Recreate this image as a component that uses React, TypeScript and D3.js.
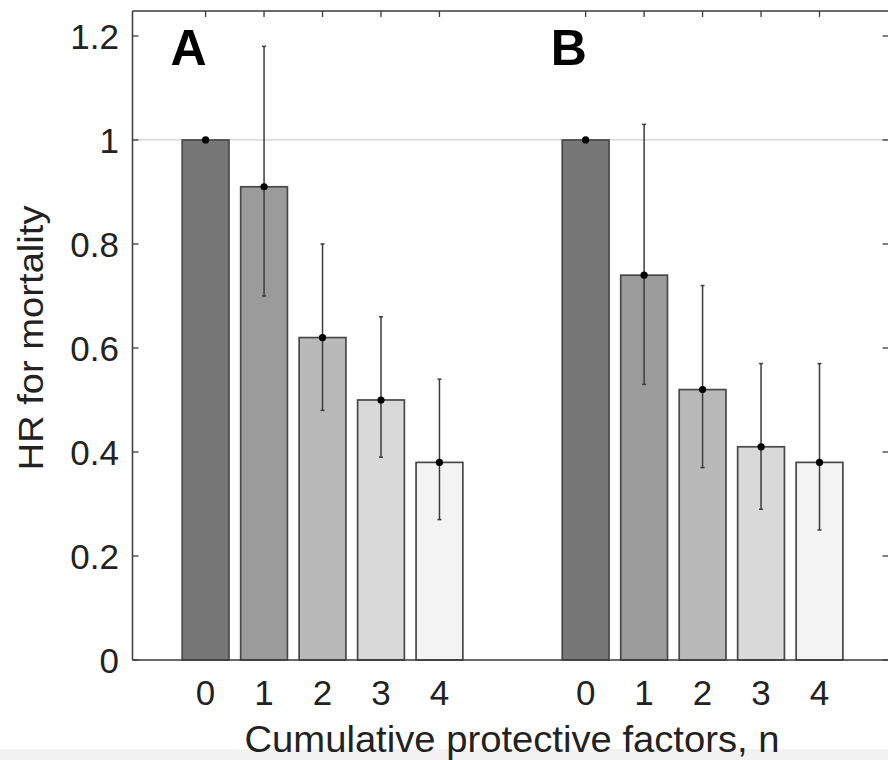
import React from "react";
import * as d3 from "d3";

const categories = ["0", "1", "2", "3", "4"];
const panelLabels = ["A", "B"];
const hrA = [1, 0.91, 0.62, 0.5, 0.38];
const lowA = [1, 0.7, 0.48, 0.39, 0.27];
const highA = [1, 1.18, 0.8, 0.66, 0.54];
const hrB = [1, 0.74, 0.52, 0.41, 0.38];
const lowB = [1, 0.53, 0.37, 0.29, 0.25];
const highB = [1, 1.03, 0.72, 0.57, 0.57];
const yTicks = [0, 0.2, 0.4, 0.6, 0.8, 1, 1.2];
const yTickLabels = ["0", "0.2", "0.4", "0.6", "0.8", "1", "1.2"];
const groupOffsets = [0, 6.5];
const barColors = ["#777777", "#9b9b9b", "#b9b9b9", "#d9d9d9", "#f3f3f3"];
const xTitle = "Cumulative protective factors, n";
const yTitle = "HR for mortality";

export default function App() {
  const W = 888;
  const H = 760;
  const left = 132.5;
  const plotRightRef = 888.5;
  const right = 890.5;
  const top = 11;
  const bottom = 660;
  const x = d3.scaleLinear().domain([-1.25, 11.68]).range([left, plotRightRef]);
  const y = d3.scaleLinear().domain([0, 1.248]).range([bottom, top]);
  const unit = x(1) - x(0);
  const bw = unit * 0.8;
  const font = "'Liberation Sans', Arial, Helvetica, sans-serif";
  const axisColor = "#3a3a3a";
  const textColor = "#222222";

  const groups = [
    { hr: hrA, low: lowA, high: highA, off: groupOffsets[0], label: panelLabels[0] },
    { hr: hrB, low: lowB, high: highB, off: groupOffsets[1], label: panelLabels[1] },
  ];
  const allPos: number[] = [];
  groups.forEach((g) => categories.forEach((_, i) => allPos.push(g.off + i)));

  return (
    <svg
      width={W}
      height={H}
      style={{ position: "absolute", left: 0, top: 0, background: "#fff" }}
      fontFamily={font}
    >
      <rect x={0} y={0} width={W} height={H} fill="#ffffff" />
      <rect x={0} y={749} width={W} height={11} fill="#f2f2f2" />
      {/* reference line at 1 */}
      <line x1={left} x2={right} y1={y(1)} y2={y(1)} stroke="#cfcfcf" strokeWidth={1.2} />
      {/* bottom ticks (behind bars) */}
      {allPos.map((p, i) => (
        <line key={"bt" + i} x1={x(p)} x2={x(p)} y1={bottom} y2={bottom - 6} stroke={axisColor} strokeWidth={1.3} />
      ))}
      {groups.map((g, gi) => (
        <g key={"g" + gi}>
          {g.hr.map((v, i) => (
            <rect
              key={"b" + i}
              x={x(g.off + i) - bw / 2}
              y={y(v)}
              width={bw}
              height={y(0) - y(v)}
              fill={barColors[i]}
              stroke="#484848"
              strokeWidth={1.7}
            />
          ))}
          {g.hr.map((v, i) =>
            g.high[i] !== g.low[i] ? (
              <g key={"e" + i}>
                <line x1={x(g.off + i)} x2={x(g.off + i)} y1={y(g.low[i])} y2={y(g.high[i])} stroke="#3c3c3c" strokeWidth={1.5} />
                <line x1={x(g.off + i) - 2} x2={x(g.off + i) + 2} y1={y(g.low[i])} y2={y(g.low[i])} stroke="#3c3c3c" strokeWidth={1.5} />
                <line x1={x(g.off + i) - 2} x2={x(g.off + i) + 2} y1={y(g.high[i])} y2={y(g.high[i])} stroke="#3c3c3c" strokeWidth={1.5} />
              </g>
            ) : null
          )}
          {g.hr.map((v, i) => (
            <circle key={"d" + i} cx={x(g.off + i)} cy={y(v)} r={3.6} fill="#000" />
          ))}
          <text x={x(g.off) - 35} y={65} fontSize={50} fontWeight="bold" fill="#000">
            {g.label}
          </text>
          {categories.map((c, i) => (
            <text key={"xl" + i} x={x(g.off + i)} y={705} fontSize={35} textAnchor="middle" fill={textColor}>
              {c}
            </text>
          ))}
        </g>
      ))}
      {/* axes box */}
      <line x1={left} x2={left} y1={top} y2={bottom} stroke={axisColor} strokeWidth={1.5} />
      <line x1={right} x2={right} y1={top} y2={bottom} stroke={axisColor} strokeWidth={1.5} />
      <line x1={left} x2={right} y1={top} y2={top} stroke={axisColor} strokeWidth={1.5} />
      <line x1={left} x2={right} y1={bottom} y2={bottom} stroke={axisColor} strokeWidth={1.5} />
      {/* top ticks */}
      {allPos.map((p, i) => (
        <line key={"tt" + i} x1={x(p)} x2={x(p)} y1={top} y2={top + 6} stroke={axisColor} strokeWidth={1.3} />
      ))}
      {/* y ticks */}
      {yTicks.map((t, i) => (
        <g key={"yt" + i}>
          <line x1={left} x2={left + 6} y1={y(t)} y2={y(t)} stroke={axisColor} strokeWidth={1.3} />
          <line x1={right - 8} x2={right} y1={y(t)} y2={y(t)} stroke={axisColor} strokeWidth={1.3} />
          <text x={119} y={y(t)} dy="0.36em" fontSize={35} textAnchor="end" fill={textColor}>
            {yTickLabels[i]}
          </text>
        </g>
      ))}
      <text
        transform={`translate(43,338) rotate(-90)`}
        fontSize={35}
        textAnchor="middle"
        fill={textColor}
        textLength={265}
        lengthAdjust="spacingAndGlyphs"
      >
        {yTitle}
      </text>
      <text
        x={512}
        y={752}
        fontSize={36}
        textAnchor="middle"
        fill={textColor}
        textLength={535}
        lengthAdjust="spacingAndGlyphs"
      >
        {xTitle}
      </text>
    </svg>
  );
}
